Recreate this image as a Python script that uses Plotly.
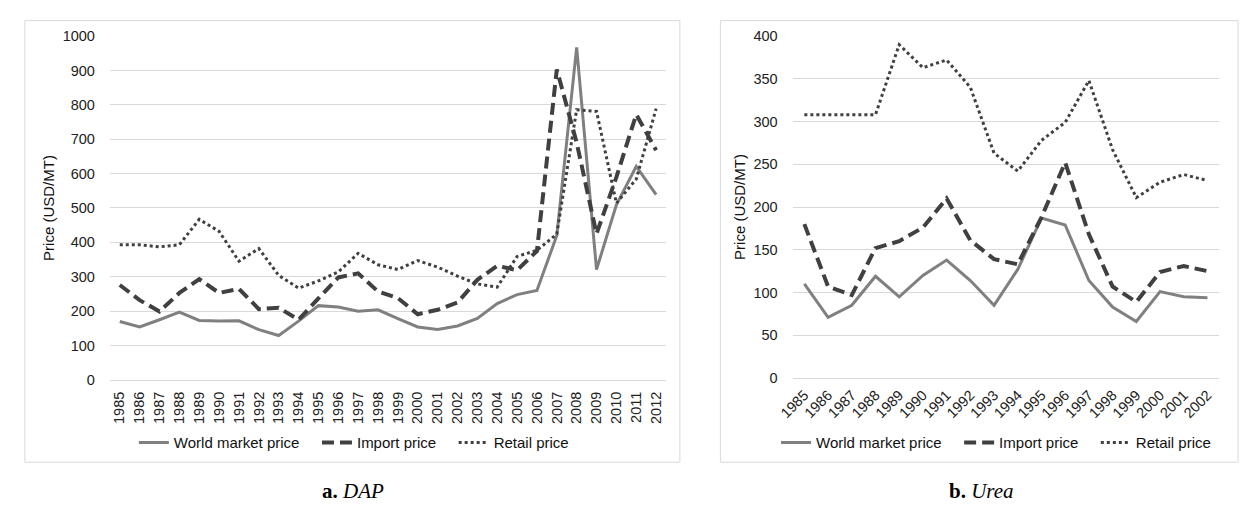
import plotly.graph_objects as go

# ---- Data: DAP ----
dap_years = [str(y) for y in range(1985, 2013)]
dap_world = [170, 154, 175, 197, 173, 171, 172, 146, 129, 171, 216, 212, 200, 204, 178, 154,
             147, 157, 179, 222, 248, 260, 420, 967, 321, 509, 621, 539]
dap_import = [276, 232, 199, 253, 293, 253, 265, 206, 210, 175, 237, 298, 310, 257, 238, 191,
              204, 225, 291, 332, 319, 375, 903, 690, 425, 590, 772, 668]
dap_retail = [393, 393, 387, 393, 467, 432, 345, 382, 304, 267, 288, 314, 368, 335, 321, 347,
              328, 302, 279, 270, 359, 377, 424, 786, 781, 514, 584, 789]

# ---- Data: Urea ----
urea_years = [str(y) for y in range(1985, 2003)]
urea_world = [110, 71, 85, 119, 95, 120, 138, 114, 85, 127, 187, 179, 114, 83, 66, 101, 95, 94]
urea_import = [180, 107, 97, 152, 160, 176, 210, 161, 139, 133, 188, 252, 168, 107, 89, 124, 131, 125]
urea_retail = [308, 308, 308, 308, 390, 363, 372, 340, 263, 242, 278, 299, 348, 267, 211, 229, 238, 231]

series_names = ["World market price", "Import price", "Retail price"]
panel_captions = ["<b>a.</b> <i>DAP</i>", "<b>b.</b> <i>Urea</i>"]
y_title = "Price (USD/MT)"

W, H = 1244, 508
def px_x(v):
    return v / W
def px_y(v):
    return 1 - v / H

GRID = "#d9d9d9"
FONT = "Liberation Sans, Arial"
NB = "\u00a0"
styles = [
    dict(color="#808080", width=3, dash="solid"),
    dict(color="#404040", width=4, dash="12px,6px"),
    dict(color="#404040", width=3, dash="3px,3px"),
]
pads = [NB * 3, NB * 3, ""]

fig = go.Figure()

for name, pad, vals, st in zip(series_names, pads, [dap_world, dap_import, dap_retail], styles):
    fig.add_trace(go.Scatter(x=dap_years, y=vals, name=name + pad, mode="lines", line=st,
                             xaxis="x", yaxis="y", legend="legend"))
for name, pad, vals, st in zip(series_names, pads, [urea_world, urea_import, urea_retail], styles):
    fig.add_trace(go.Scatter(x=urea_years, y=vals, name=name + pad, mode="lines", line=st,
                             xaxis="x2", yaxis="y2", legend="legend2"))

tickfont = dict(family=FONT, size=14.5, color="#222")
titlefont = dict(family=FONT, size=15, color="#111")
legfont = dict(family=FONT, size=15, color="#111")
capfont = dict(family="Liberation Serif, Times New Roman", size=21, color="#000")

fig.update_layout(
    width=W, height=H,
    margin=dict(l=0, r=0, t=0, b=0),
    paper_bgcolor="white", plot_bgcolor="white",
    xaxis=dict(domain=[px_x(96), px_x(659)], anchor="y", type="category",
               range=[-0.5, len(dap_years) - 0.5], showgrid=False,
               showline=True, linecolor=GRID, linewidth=1, tickangle=-90,
               tickfont=tickfont, ticks="outside", ticklen=5, tickcolor="rgba(0,0,0,0)"),
    yaxis=dict(domain=[px_y(384), px_y(29)], anchor="x", range=[0, 1000], dtick=100,
               showgrid=True, gridcolor=GRID, gridwidth=1, zeroline=False,
               tickfont=tickfont, ticks="outside", ticklen=11, tickcolor="rgba(0,0,0,0)",
               title=dict(text=y_title, font=titlefont, standoff=4)),
    xaxis2=dict(domain=[px_x(787), px_x(1219)], anchor="y2", type="category",
                range=[-0.5, len(urea_years) - 0.5], showgrid=False,
                showline=True, linecolor=GRID, linewidth=1, tickangle=-45,
                tickfont=tickfont, ticks="outside", ticklen=2, tickcolor="rgba(0,0,0,0)"),
    yaxis2=dict(domain=[px_y(382), px_y(29)], anchor="x2", range=[0, 400], dtick=50,
                showgrid=True, gridcolor=GRID, gridwidth=1, zeroline=False,
                tickfont=tickfont, ticks="outside", ticklen=11, tickcolor="rgba(0,0,0,0)",
                title=dict(text=y_title, font=titlefont, standoff=4)),
    legend=dict(orientation="h", x=px_x(343), y=px_y(449), xanchor="center", yanchor="middle",
                font=legfont, itemwidth=30, tracegroupgap=0, bgcolor="rgba(0,0,0,0)"),
    legend2=dict(orientation="h", x=px_x(993), y=px_y(449), xanchor="center", yanchor="middle",
                 font=legfont, itemwidth=30, tracegroupgap=0, bgcolor="rgba(0,0,0,0)"),
    showlegend=True,
    shapes=[
        dict(type="rect", xref="paper", yref="paper", x0=px_x(10), x1=px_x(673),
             y0=px_y(469), y1=px_y(13), line=dict(color=GRID, width=1), fillcolor="rgba(0,0,0,0)", layer="below"),
        dict(type="rect", xref="paper", yref="paper", x0=px_x(714), x1=px_x(1238),
             y0=px_y(469), y1=px_y(13), line=dict(color=GRID, width=1), fillcolor="rgba(0,0,0,0)", layer="below"),
    ],
    annotations=[
        dict(text=panel_captions[0], xref="paper", yref="paper", x=px_x(342), y=px_y(499),
             showarrow=False, xanchor="center", yanchor="middle", font=capfont),
        dict(text=panel_captions[1], xref="paper", yref="paper", x=px_x(978), y=px_y(499),
             showarrow=False, xanchor="center", yanchor="middle", font=capfont),
    ],
)

fig.write_html("out.html", config={"displayModeBar": False},
               post_script="document.body.style.margin='0';document.body.style.overflow='hidden';")
